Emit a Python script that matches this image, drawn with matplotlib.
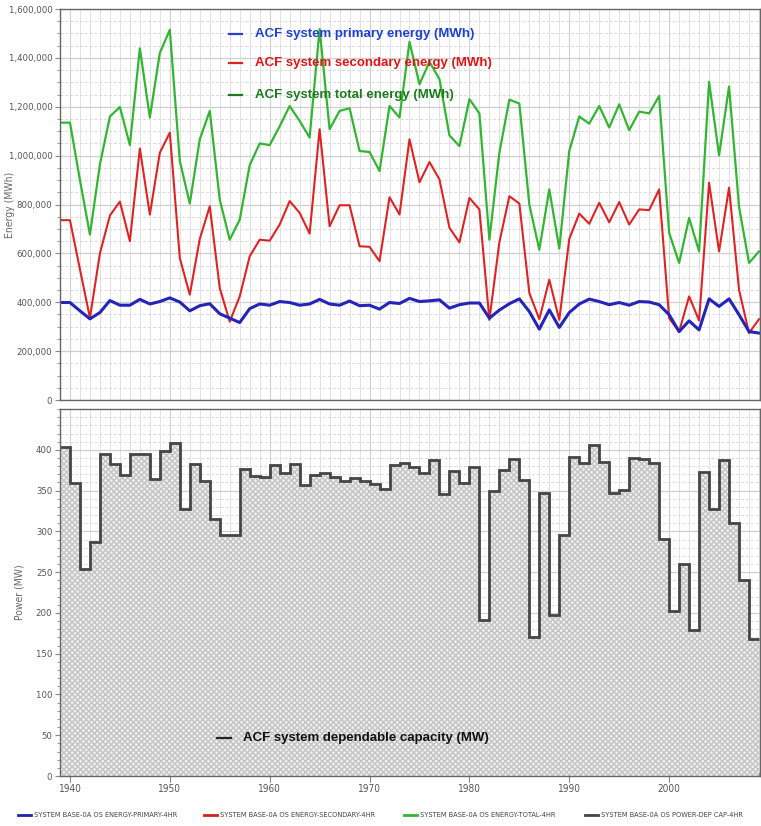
import numpy as np
import matplotlib
matplotlib.use("Agg")
import matplotlib.pyplot as plt
from matplotlib.ticker import MultipleLocator, FixedLocator, FuncFormatter

# water years (start of each year), 71 points
years = list(range(1939, 2010))

# energy series (thousand MWh)
primary = [399, 399, 365, 332, 358, 407, 388, 388, 412, 393, 403, 418, 401, 365, 386, 394,
           353, 335, 317, 374, 393, 388, 403, 399, 388, 393, 412, 393, 388, 405, 386, 388,
           372, 399, 395, 416, 403, 406, 410, 376, 390, 397, 397, 335, 368, 394, 414, 362,
           290, 369, 297, 358, 393, 413, 403, 390, 399, 388, 403, 401, 390, 349, 280, 324,
           287, 414, 383, 414, 349, 280, 274]
secondary = [736, 736, 535, 336, 600, 755, 812, 650, 1029, 759, 1012, 1094, 581, 431, 659, 793,
             458, 321, 424, 588, 656, 652, 718, 814, 766, 681, 1108, 711, 797, 797, 629, 627,
             568, 830, 759, 1067, 891, 974, 903, 705, 645, 827, 780, 328, 645, 834, 804, 438,
             331, 492, 328, 659, 763, 721, 807, 727, 810, 718, 780, 777, 862, 335, 280, 424,
             325, 889, 608, 869, 451, 274, 331]
total = [1135, 1135, 900, 677, 964, 1160, 1199, 1043, 1439, 1156, 1420, 1515, 978, 804, 1067, 1183,
         820, 656, 738, 961, 1050, 1043, 1120, 1203, 1142, 1074, 1518, 1108, 1183, 1194, 1019, 1015,
         937, 1203, 1156, 1466, 1292, 1384, 1313, 1083, 1039, 1231, 1173, 656, 1012, 1229, 1213, 800,
         615, 862, 620, 1019, 1160, 1131, 1203, 1115, 1210, 1104, 1180, 1173, 1244, 684, 561, 745,
         608, 1302, 1001, 1283, 790, 561, 608]

# dependable capacity (MW), one value per year step
capacity = [403, 359, 254, 287, 395, 382, 369, 395, 395, 364, 398, 408, 327, 383, 362, 315,
            296, 296, 376, 368, 367, 381, 372, 382, 357, 369, 371, 367, 362, 365, 362, 358,
            352, 381, 384, 379, 372, 387, 346, 374, 359, 379, 191, 350, 375, 389, 363, 170,
            347, 198, 296, 391, 384, 406, 385, 347, 351, 390, 389, 384, 291, 202, 260, 179,
            373, 327, 387, 310, 240, 168]

series_labels = ["ACF system primary energy (MWh)", "ACF system secondary energy (MWh)",
                 "ACF system total energy (MWh)"]
legend_labels = ["SYSTEM BASE-0A OS ENERGY-PRIMARY-4HR", "SYSTEM BASE-0A OS ENERGY-SECONDARY-4HR",
                 "SYSTEM BASE-0A OS ENERGY-TOTAL-4HR", "SYSTEM BASE-0A OS POWER-DEP CAP-4HR"]

narrow = dict(family="DejaVu Sans", stretch="condensed")
bold = ["Liberation Sans", "DejaVu Sans"]
tick_gray = "#555555"

fig = plt.figure(figsize=(7.61, 8.26), dpi=100)
ax1 = fig.add_axes([0.0788, 0.5157, 0.9199, 0.4734])
ax2 = fig.add_axes([0.0788, 0.0605, 0.9199, 0.4443])


def style_axes(ax):
    ax.set_xlim(1939, 2009.1)
    ax.xaxis.set_major_locator(MultipleLocator(10))
    ax.xaxis.set_minor_locator(MultipleLocator(1))
    ax.grid(which="minor", axis="x", color="#e2e2e2", lw=0.7)
    ax.grid(which="major", axis="x", color="#d0d0d0", lw=0.8)
    ax.grid(which="major", axis="y", color="#cfcfcf", lw=0.9)
    ax.grid(which="minor", axis="y", color="#dadada", lw=0.7, ls=(0, (3, 2)))
    ax.set_axisbelow(True)
    for s in ax.spines.values():
        s.set_color("#666666")
        s.set_linewidth(1.0)
    ax.tick_params(which="both", colors="#888888", labelcolor=tick_gray, labelsize=6.8,
                   pad=2)
    ax.tick_params(axis="x", labelsize=7.2)
    for lab in ax.get_yticklabels() + ax.get_xticklabels():
        lab.set(**narrow)


# ---- top panel: energy
ax1.plot(years, total, color="#33b533", lw=1.6)
ax1.plot(years, secondary, color="#dd2424", lw=1.5)
ax1.plot(years, primary, color="#2424b8", lw=2.2)
ax1.set_ylim(0, 1600)
ax1.yaxis.set_major_locator(MultipleLocator(200))
ax1.yaxis.set_minor_locator(MultipleLocator(50))
ax1.yaxis.set_major_formatter(FuncFormatter(lambda v, p: f"{int(v * 1000):,}"))
style_axes(ax1)
ax1.tick_params(axis="x", which="both", labelbottom=False, length=0)
ax1.set_ylabel("Energy (MWh)", color="#666666", fontsize=7.5, **narrow)
ax1.yaxis.set_label_coords(-0.064, 0.5)

txt_colors = ["#1f3fd0", "#dd1515", "#1c7a1c"]
line_colors = ["#2a3fd6", "#dd2424", "#1c7a1c"]
txt_y = [0.935, 0.862, 0.78]
for lab, tc, lc, ty in zip(series_labels, txt_colors, line_colors, txt_y):
    ax1.plot([0.241, 0.260], [ty, ty], transform=ax1.transAxes, color=lc, lw=1.6)
    ax1.text(0.278, ty, lab, transform=ax1.transAxes, color=tc, fontsize=9.5,
             fontweight="bold", family=bold, va="center")

# ---- bottom panel: dependable capacity
ax2.stairs(capacity, years, fill=True, facecolor="#efefef", edgecolor="#c4c4c4",
           hatch="xxxxxx", lw=0, baseline=0)
ax2.stairs(capacity, years, color="#454545", lw=2.0, baseline=None)
ax2.set_ylim(0, 450)
ax2.yaxis.set_major_locator(FixedLocator(list(range(0, 401, 50))))
ax2.yaxis.set_minor_locator(MultipleLocator(10))
style_axes(ax2)
ax2.tick_params(axis="x", which="minor", length=3, direction="in")
ax2.tick_params(axis="x", which="major", length=4)
ax2.set_ylabel("Power (MW)", color="#666666", fontsize=7.5, **narrow)
ax2.yaxis.set_label_coords(-0.05, 0.5)

ax2.plot([0.224, 0.244], [0.104, 0.104], transform=ax2.transAxes, color="#222222", lw=1.6)
ax2.text(0.261, 0.104, "ACF system dependable capacity (MW)", transform=ax2.transAxes,
         color="#111111", fontsize=9.5, fontweight="bold", family=bold, va="center")

# ---- legend row at the bottom of the figure
leg_x = [0.024, 0.268, 0.531, 0.769]
leg_colors = ["#2222aa", "#cc2222", "#33b533", "#444444"]
for lx, lc, lab in zip(leg_x, leg_colors, legend_labels):
    fig.lines.append(plt.Line2D([lx, lx + 0.017], [0.0135, 0.0135], transform=fig.transFigure,
                                color=lc, lw=2))
    fig.text(lx + 0.021, 0.0135, lab, color="#444444", fontsize=5.3, va="center", **narrow)

fig.savefig("out.png", dpi=100)
